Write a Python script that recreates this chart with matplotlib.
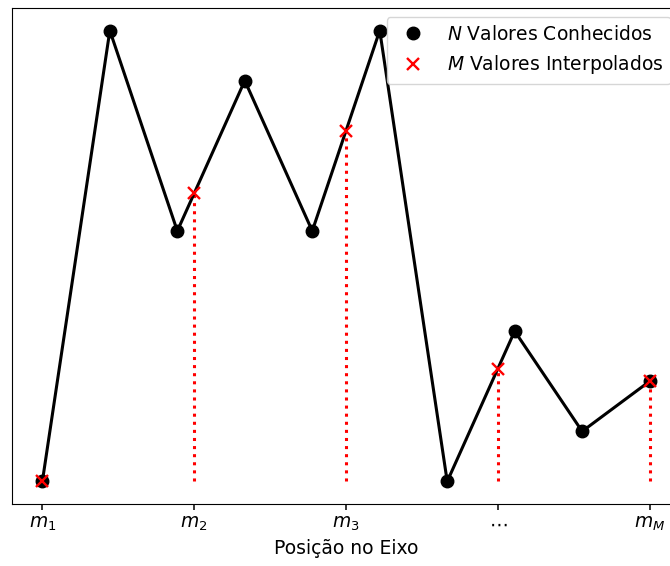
import matplotlib
matplotlib.use("Agg")
import matplotlib.pyplot as plt
import numpy as np

# known samples
x_known = [0, 1, 2, 3, 4, 5, 6, 7, 8, 9]
y_known = [0, 9, 5, 8, 5, 9, 0, 3, 1, 2]

# interpolation positions
x_interp = [0, 2.25, 4.5, 6.75, 9]
tick_labels = ["$m_1$", "$m_2$", "$m_3$", r"$\cdots$", "$m_M$"]

y_interp = np.interp(x_interp, x_known, y_known)

fig = plt.figure(figsize=(6.7, 5.66), dpi=100)
ax = fig.add_axes([12 / 670, 62 / 566, 668 / 670, 496 / 566])

ax.plot(x_known, y_known, color="black", lw=2.2, zorder=2)
ax.vlines(x_interp, 0, y_interp, colors="red", linestyles=":", lw=2.2, zorder=1)
ax.plot(x_known, y_known, "o", color="black", ms=9, ls="none",
        label="$N$ Valores Conhecidos", zorder=3)
ax.plot(x_interp, y_interp, "x", color="red", ms=9, mew=1.7, ls="none",
        label="$M$ Valores Interpolados", zorder=4)

ax.set_xticks(x_interp)
ax.set_xticklabels(tick_labels, fontsize=13.5)
ax.tick_params(axis="x", length=4, width=1.1)
ax.set_yticks([])
ax.set_xlabel("Posição no Eixo", fontsize=13.5)
ax.legend(loc="upper right", fontsize=13.5)

fig.savefig("out.png", dpi=100)
